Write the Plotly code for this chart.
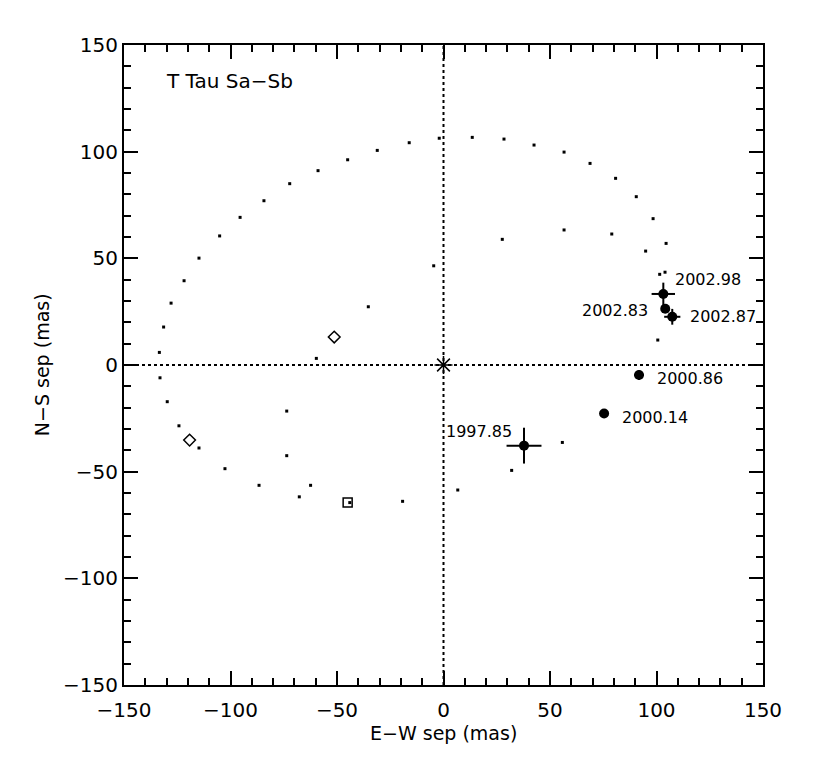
import plotly.graph_objects as go

# astrometric measurements of Sb relative to Sa (mas)
epochs = ["1997.85", "2000.14", "2000.86", "2002.83", "2002.87", "2002.98"]
ew_sep = [37.8, 75.4, 91.8, 104.1, 107.4, 103.2]
ns_sep = [-37.8, -22.7, -4.7, 26.4, 22.6, 33.3]
ew_err = [8.2, 2.0, 2.3, 1.5, 3.8, 5.5]
ns_err = [8.4, 2.0, 2.3, 1.5, 3.7, 5.3]

# orbit model positions (dots)
orbit_ew = [-2.0, 13.5, 28.4, 42.5, 56.6, 68.8, 80.8, 90.5, 98.4, 104.5, 101.5, 104.0,
            -16.1, -31.1, -45.0, -58.9, -72.2, -84.3, -95.5, -105.1, -114.8, -121.8,
            -127.9, -131.4, -133.4, -133.1, -129.7, -124.2, -114.8, -102.6, -86.6,
            -67.7, -44.0, -19.2, 6.7, 32.0, 55.8,
            -4.6, -35.3, -59.7, -73.6, -73.6, -62.4,
            27.6, 56.6, 79.0, 94.9, 100.6]
orbit_ns = [106.3, 106.7, 105.9, 103.1, 99.8, 94.5, 87.5, 78.9, 68.6, 57.0, 42.5, 43.5,
            104.2, 100.6, 96.2, 91.1, 85.0, 77.0, 69.2, 60.5, 50.1, 39.5,
            29.0, 17.8, 5.9, -6.0, -17.2, -28.5, -38.9, -48.6, -56.4,
            -61.8, -64.5, -63.9, -58.6, -49.4, -36.3,
            46.5, 27.3, 3.1, -21.6, -42.5, -56.4,
            58.9, 63.3, 61.4, 53.4, 11.7]

diamond_ew = [-51.3, -119.2]
diamond_ns = [13.1, -35.2]
square_ew = [-45.0]
square_ns = [-64.4]

axis_range = [-150, 150]

# label placement: (xanchor, xshift, yshift)
label_style = {
    "1997.85": ("right", -10, 14),
    "2000.14": ("left", 16, -4),
    "2000.86": ("left", 16, -3),
    "2002.83": ("right", -15, -2),
    "2002.87": ("left", 16, 0),
    "2002.98": ("left", 10, 14),
}

FONT = "DejaVu Sans"

fig = go.Figure()

# dotted zero lines
fig.add_trace(go.Scatter(x=axis_range, y=[0, 0], mode="lines",
                         line=dict(color="black", width=2, dash="dot"), hoverinfo="skip"))
fig.add_trace(go.Scatter(x=[0, 0], y=axis_range, mode="lines",
                         line=dict(color="black", width=2, dash="dot"), hoverinfo="skip"))

fig.add_trace(go.Scatter(x=orbit_ew, y=orbit_ns, mode="markers",
                         marker=dict(symbol="square", size=3, color="black", line=dict(width=0))))

fig.add_trace(go.Scatter(x=diamond_ew, y=diamond_ns, mode="markers",
                         marker=dict(symbol="diamond-open", size=9, color="black", line=dict(width=1.5))))
fig.add_trace(go.Scatter(x=square_ew, y=square_ns, mode="markers",
                         marker=dict(symbol="square-open", size=9, color="black", line=dict(width=1.5))))

# primary at origin
fig.add_trace(go.Scatter(x=[0], y=[0], mode="markers",
                         marker=dict(symbol="asterisk-open", size=15, color="black", line=dict(width=1.5))))

fig.add_trace(go.Scatter(
    x=ew_sep, y=ns_sep, mode="markers",
    marker=dict(symbol="circle", size=10, color="black"),
    error_x=dict(type="data", array=ew_err, color="black", thickness=2, width=0),
    error_y=dict(type="data", array=ns_err, color="black", thickness=2, width=0),
))

for ep, x, y in zip(epochs, ew_sep, ns_sep):
    anchor, dx, dy = label_style[ep]
    fig.add_annotation(x=x, y=y, text=ep, showarrow=False, xanchor=anchor,
                       xshift=dx, yshift=dy, font=dict(family=FONT, size=16, color="black"))

fig.add_annotation(x=-131, y=133, text="T Tau Sa\u2212Sb", showarrow=False, xanchor="left",
                   font=dict(family=FONT, size=20, color="black"))

fig.add_annotation(xref="paper", yref="paper", x=0.5, y=-0.075, yanchor="middle", xanchor="center",
                   text="E\u2212W sep (mas)", showarrow=False,
                   font=dict(family=FONT, size=19, color="black"))
fig.add_annotation(xref="paper", yref="paper", x=-0.128, y=0.5, xanchor="center", yanchor="middle",
                   text="N\u2212S sep (mas)", textangle=-90, showarrow=False,
                   font=dict(family=FONT, size=19, color="black"))

axis_style = dict(
    range=axis_range, tickmode="linear", tick0=-150, dtick=50,
    ticks="inside", ticklen=14, tickwidth=2, tickcolor="black",
    minor=dict(ticks="inside", ticklen=7, tickwidth=2, tickcolor="black", dtick=10, tick0=-150),
    showline=True, linewidth=2, linecolor="black", mirror="ticks",
    showgrid=False, zeroline=False,
    tickfont=dict(family=FONT, size=20, color="black"),
)

fig.update_xaxes(ticklabelstandoff=6, **axis_style)
fig.update_yaxes(**axis_style)

fig.update_layout(
    width=822, height=768,
    margin=dict(l=116, r=67, t=37, b=91),
    paper_bgcolor="white", plot_bgcolor="white",
    showlegend=False,
)

fig.write_html("out.html")
